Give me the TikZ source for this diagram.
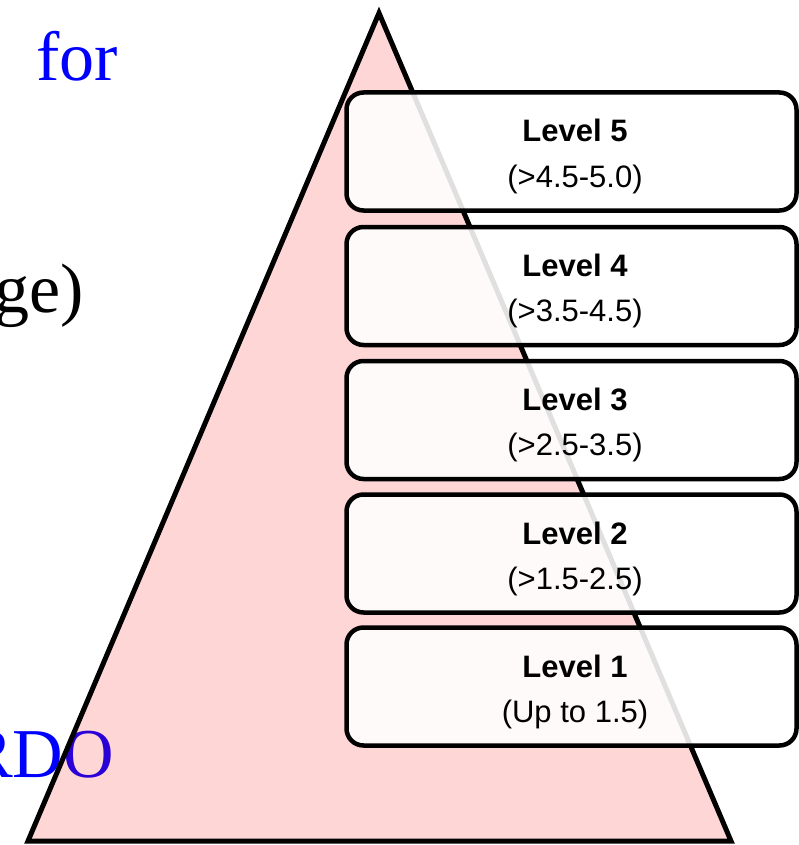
\documentclass[tikz,border=0pt]{standalone}
\usepackage{fontspec}
\newfontfamily\serifface{Liberation Serif}
\newfontfamily\sansface{Liberation Sans}
\tikzset{
  bigtext/.style={inner sep=0pt, font=\serifface\fontsize{70}{80}\selectfont},
  pyramid/.style={draw=black, line width=5pt, fill=red, fill opacity=0.16, draw opacity=1, line join=miter},
  levelbox/.style={draw=black, line width=4.5pt, fill=white, fill opacity=0.88, rounded corners=17pt},
  leveltitle/.style={inner sep=0pt, font=\sansface\bfseries\fontsize{31}{36}\selectfont},
  levelrange/.style={inner sep=0pt, font=\sansface\fontsize{31}{36}\selectfont},
}
\begin{document}
\begin{tikzpicture}[x=1pt,y=-1pt]
\useasboundingbox (0,0) rectangle (799,845);
% background texts
\node[bigtext, text=blue, anchor=base west] (tfor) at (36,81) {for};
\node[bigtext, text=black, anchor=base east] (tge) at (84,312) {ge)};
\node[bigtext, text=blue, anchor=base east] (trdo) at (114,777) {RDO};
% pyramid
\coordinate (apex) at (379,13);
\coordinate (bl) at (28,841);
\coordinate (br) at (731,841);
\path[pyramid] (apex) -- (br) -- (bl) -- cycle;
% level boxes
\foreach \n/\cy/\rng in {5/151.5/{(>4.5-5.0)},4/286/{(>3.5-4.5)},3/420/{(>2.5-3.5)},2/553.5/{(>1.5-2.5)},1/686.5/{(Up to 1.5)}}{
  \path[levelbox] (346.5,\cy-59) rectangle (796.5,\cy+59);
  \node[leveltitle, anchor=base] (title\n) at (575,\cy-9.5) {Level \n};
  \node[levelrange, anchor=base] (range\n) at (575,\cy+35.5) {\rng};
}
\end{tikzpicture}
\end{document}
